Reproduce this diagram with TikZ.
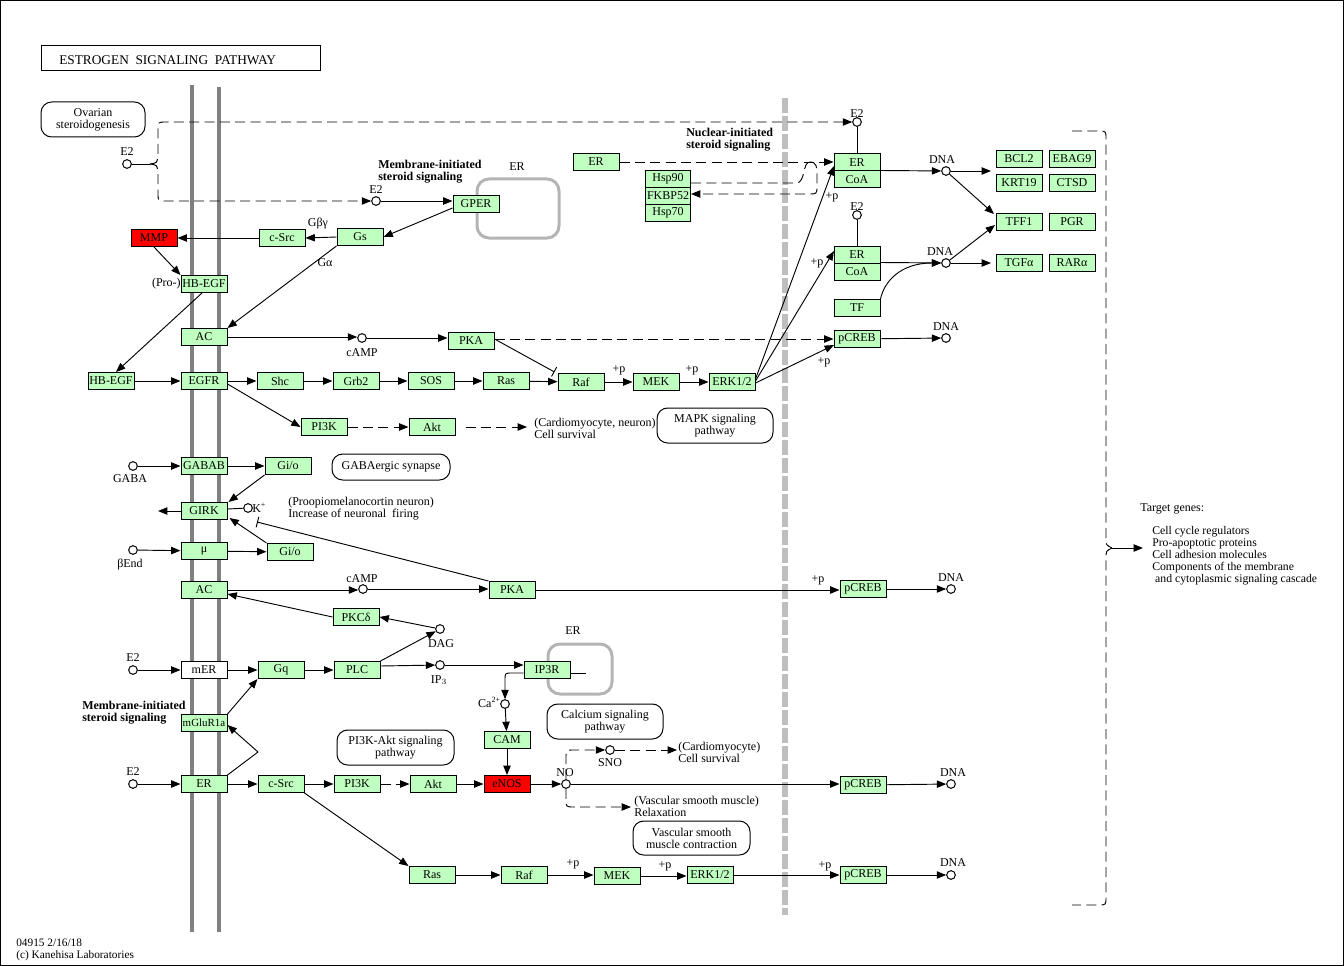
\documentclass[tikz,border=0pt]{standalone}
\usepackage{fontspec}
\setmainfont{Liberation Serif}
\usetikzlibrary{arrows.meta,calc}
\definecolor{kg}{RGB}{191,255,191}
\definecolor{membgray}{RGB}{128,128,128}
\definecolor{nucgray}{RGB}{190,190,190}
\definecolor{ergray}{RGB}{180,180,180}
\newcommand{\kf}{\fontsize{9}{9}\selectfont}
\begin{document}
\begin{tikzpicture}[x=0.75pt,y=-0.75pt,
 gene/.style={draw, line width=0.75pt, fill=kg, minimum width=34.5pt, minimum height=12.75pt, inner sep=0pt, font=\kf},
 redgene/.style={gene, fill=red},
 cpd/.style={circle, draw, line width=0.75pt, fill=white, minimum size=6.5pt, inner sep=0pt},
 mapb/.style={draw, line width=0.75pt, rounded corners=8pt, align=center, font=\kf, inner sep=0pt},
 lbl/.style={font=\kf, inner sep=0pt},
 txt/.style={font=\kf, inner sep=0pt, align=left, anchor=west},
 boldtxt/.style={font=\kf\bfseries, inner sep=0pt, align=left, anchor=west},
 ln/.style={line width=0.7pt},
 arr/.style={ln, -{Triangle[length=7pt,width=5.5pt]}},
 darr/.style={arr, dash pattern=on 7.5pt off 4pt},
 dln/.style={ln, dash pattern=on 7.5pt off 4pt},
 inh/.style={ln, -{Bar[width=8pt]}},
]
\useasboundingbox (0,0) rectangle (1344,966);
\draw[line width=0.75pt] (0.5,0.5) rectangle (1343.5,965.5);

% membranes
\draw[membgray, line width=3pt] (192,85) -- (192,932);
\draw[membgray, line width=3pt] (219,87) -- (219,932);
\draw[nucgray, line width=4.5pt, dash pattern=on 11pt off 2.5pt] (785,98) -- (785,915);
\draw[ergray, line width=2.25pt, rounded corners=9pt] (477,179) rectangle (559,238);
\draw[ergray, line width=2.25pt, rounded corners=9pt] (548,644) rectangle (612,694);

% title
\node[draw, line width=0.75pt, minimum width=209.25pt, minimum height=18.75pt, inner sep=0pt] (title) at (180.5,58.5) {};
\node[font=\fontsize{10}{10}\selectfont, inner sep=0pt, anchor=west] (titletext) at (59,60) {ESTROGEN\ \ SIGNALING\ \ PATHWAY};

% map boxes
\node[mapb, minimum width=78pt, minimum height=26.25pt] (ovar) at (93,119.5) {Ovarian\\steroidogenesis};
\node[mapb, minimum width=87pt, minimum height=26.25pt] (mapk) at (715,425.5) {MAPK signaling\\pathway};
\node[mapb, minimum width=88.5pt, minimum height=19.5pt] (gabasyn) at (391,467) {GABAergic synapse};
\node[mapb, minimum width=87.75pt, minimum height=26.25pt] (pi3kakt) at (395.5,747.5) {PI3K-Akt signaling\\pathway};
\node[mapb, minimum width=87pt, minimum height=26.25pt] (calc) at (605,721.5) {Calcium signaling\\pathway};
\node[mapb, minimum width=87.75pt, minimum height=25.5pt] (vsmc) at (691.5,838) {Vascular smooth\\muscle contraction};

% genes
\node[redgene] (mmp) at (154,238) {MMP};
\node[gene] (csrc1) at (282,238) {c-Src};
\node[gene] (gs) at (360,237) {Gs};
\node[gene] (gper) at (476,204) {GPER};
\node[gene] (hbegfp) at (204,284) {HB-EGF};
\node[gene] (ac1) at (204,337) {AC};
\node[gene] (hbegf) at (111,381) {HB-EGF};
\node[gene] (egfr) at (204,381) {EGFR};
\node[gene] (shc) at (280,381) {Shc};
\node[gene] (grb2) at (356,381) {Grb2};
\node[gene] (sos) at (431,381) {SOS};
\node[gene] (ras1) at (506,381) {Ras};
\node[gene] (raf1) at (581,382) {Raf};
\node[gene] (mek1) at (656,382) {MEK};
\node[gene] (erk1) at (732,382) {ERK1/2};
\node[gene] (pka1) at (471,341) {PKA};
\node[gene] (pi3k1) at (324,427) {PI3K};
\node[gene] (akt1) at (432,427) {Akt};
\node[gene] (ertop) at (596,162) {ER};
\node[gene, minimum width=33.75pt] (hsp90) at (668,179) {Hsp90};
\node[gene, minimum width=33.75pt] (fkbp) at (668,196) {FKBP52};
\node[gene, minimum width=33.75pt] (hsp70) at (668,213) {Hsp70};
\node[gene] (er1) at (857,162.5) {ER};
\node[gene] (coa1) at (857,179.5) {CoA};
\node[gene] (er2) at (857,254.5) {ER};
\node[gene] (coa2) at (857,271.5) {CoA};
\node[gene] (tf) at (857,308) {TF};
\node[gene] (pcreb1) at (857,339) {pCREB};
\node[gene] (bcl2) at (1019,159) {BCL2};
\node[gene] (ebag9) at (1072,159) {EBAG9};
\node[gene] (krt19) at (1019,183) {KRT19};
\node[gene] (ctsd) at (1072,183) {CTSD};
\node[gene] (tff1) at (1019,222) {TFF1};
\node[gene] (pgr) at (1072,222) {PGR};
\node[gene] (tgfa) at (1019,263) {TGFα};
\node[gene] (rara) at (1072,263) {RARα};
\node[gene] (gabab) at (204,466) {GABAB};
\node[gene] (gio1) at (288,466) {Gi/o};
\node[gene] (girk) at (204,511) {GIRK};
\node[gene] (mu) at (204,551) {μ};
\node[gene] (gio2) at (290,552) {Gi/o};
\node[gene] (ac2) at (204,590) {AC};
\node[gene] (pka2) at (512,590) {PKA};
\node[gene] (pcreb2) at (863,589) {pCREB};
\node[gene] (pkcd) at (356,617) {PKCδ};
\node[gene, fill=white] (mer) at (204,670) {mER};
\node[gene] (gq) at (281,670) {Gq};
\node[gene] (plc) at (357,670) {PLC};
\node[gene] (ip3r) at (547,670) {IP3R};
\node[gene] (cam) at (507,740) {CAM};
\node[redgene] (enos) at (507,784) {eNOS};
\node[gene, font=\fontsize{8.2}{9}\selectfont] (mglur) at (204,723) {mGluR1a};
\node[gene] (er3) at (204,784) {ER};
\node[gene] (csrc2) at (281,784) {c-Src};
\node[gene] (pi3k2) at (357,784) {PI3K};
\node[gene] (akt2) at (433,784) {Akt};
\node[gene] (pcreb3) at (863,785) {pCREB};
\node[gene] (ras2) at (432,875) {Ras};
\node[gene] (raf2) at (524,875) {Raf};
\node[gene] (mek2) at (617,876) {MEK};
\node[gene] (erk2) at (710,875) {ERK1/2};
\node[gene] (pcreb4) at (863,875) {pCREB};

% compounds
\node[cpd] (e2a) at (127,164) {};
\node[cpd] (e2b) at (376,201) {};
\node[cpd] (e2c) at (857,122) {};
\node[cpd] (e2d) at (857,215) {};
\node[cpd] (camp1) at (362,338) {};
\node[cpd] (dna1) at (946,171) {};
\node[cpd] (dna2) at (946,263) {};
\node[cpd] (dna3) at (946,338) {};
\node[cpd] (gaba) at (133,466) {};
\node[cpd] (kplus) at (248,508) {};
\node[cpd] (bend) at (133,550) {};
\node[cpd] (camp2) at (363,589) {};
\node[cpd] (dna4) at (951,589) {};
\node[cpd] (dag) at (440,629) {};
\node[cpd] (e2e) at (133,670) {};
\node[cpd] (ip3) at (440,665) {};
\node[cpd] (ca) at (505,704) {};
\node[cpd] (e2f) at (133,784) {};
\node[cpd] (no) at (566,784) {};
\node[cpd] (sno) at (610,750) {};
\node[cpd] (dna5) at (951,784) {};
\node[cpd] (dna6) at (951,875) {};

% free ends
\coordinate (girkout) at (158,511);
\coordinate (survend) at (527,427);
\coordinate (bclin) at (991,171);
\coordinate (tgfin) at (991,263);
\coordinate (snoout) at (677,750);
\coordinate (relax) at (631,807);
\coordinate (tgtarrow) at (1143,548);
\coordinate (ip3rstub) at (586,673);

% compound labels
\node[lbl] (le2a) at (127,152) {E2};
\node[lbl] (le2b) at (376,190) {E2};
\node[lbl] (le2c) at (857,114) {E2};
\node[lbl] (le2d) at (857,207) {E2};
\node[lbl] (lcamp1) at (362,353) {cAMP};
\node[lbl] (ldna1) at (942,160) {DNA};
\node[lbl] (ldna2) at (940,252) {DNA};
\node[lbl] (ldna3) at (946,327) {DNA};
\node[lbl] (lgaba) at (130,479) {GABA};
\node[lbl, anchor=west] (lk) at (252,508) {K\textsuperscript{+}};
\node[lbl] (lbend) at (130,565) {βEnd};
\node[lbl] (lcamp2) at (362,579) {cAMP};
\node[lbl] (ldna4) at (951,578) {DNA};
\node[lbl] (ldag) at (441,644) {DAG};
\node[lbl] (le2e) at (133,658) {E2};
\node[lbl] (lip3) at (439,680) {IP$_3$};
\node[lbl, anchor=east] (lca) at (501,702) {Ca\textsuperscript{2+}};
\node[lbl] (le2f) at (133,772) {E2};
\node[lbl] (lno) at (565,773) {NO};
\node[lbl] (lsno) at (610,763) {SNO};
\node[lbl] (ldna5) at (953,773) {DNA};
\node[lbl] (ldna6) at (953,863) {DNA};

% other labels
\node[lbl] (lgbg) at (318,224) {Gβγ};
\node[lbl] (lga) at (325,263) {Gα};
\node[lbl] (ler1) at (517,167) {ER};
\node[lbl] (ler2) at (573,631) {ER};
\node[lbl, anchor=east] (lpro) at (181,284) {(Pro-)};
\node[boldtxt] (mis1) at (378,172) {Membrane-initiated\\steroid signaling};
\node[boldtxt] (nis) at (686,140) {Nuclear-initiated\\steroid signaling};
\node[boldtxt] (mis2) at (82,713) {Membrane-initiated\\steroid signaling};
\node[txt] (tsurv1) at (534,428.5) {(Cardiomyocyte, neuron)\\Cell survival};
\node[txt] (tpomc) at (288,509) {(Proopiomelanocortin neuron)\\Increase of neuronal\ \ firing};
\node[txt] (tsurv2) at (678,752.5) {(Cardiomyocyte)\\Cell survival};
\node[txt] (trelax) at (634,806.5) {(Vascular smooth muscle)\\Relaxation};
\node[txt] (ttarget) at (1140,509) {Target genes:};
\node[txt, align=left, font=\fontsize{8.8}{9}\selectfont] (tlist) at (1152,556) {Cell cycle regulators\\Pro-apoptotic proteins\\Cell adhesion molecules\\Components of the membrane\\\ and cytoplasmic signaling cascade};
\node[txt, font=\fontsize{8.5}{8.5}\selectfont] (footer) at (16,950) {04915 2/16/18\\(c) Kanehisa Laboratories};

% +p labels
\node[lbl] (p1) at (619,370) {+p};
\node[lbl] (p2) at (692,370) {+p};
\node[lbl] (p3) at (832,197) {+p};
\node[lbl] (p4) at (817,263) {+p};
\node[lbl] (p5) at (824,362) {+p};
\node[lbl] (p6) at (818,580) {+p};
\node[lbl] (p7) at (573,864) {+p};
\node[lbl] (p8) at (665,866) {+p};
\node[lbl] (p9) at (825,866) {+p};

% ---------- connectors ----------
\draw[ln] (e2a) -- (150,164);
\draw[darr] (150,164) .. controls (157,163) .. (158,156) -- (158,130) .. controls (158,122) .. (166,122) -- (e2c);
\draw[darr] (150,164) .. controls (157,165) .. (158,172) -- (158,193) .. controls (158,201) .. (166,201) -- (e2b);
\draw[arr] (e2b) -- (e2b -| gper.west);
\draw[arr] ($(gper.west)+(0,4)$) -- (gs.east);
\draw[arr] (gs.west) -- (csrc1.east);
\draw[arr] (csrc1.west) -- (mmp.east);
\draw[arr] (mmp.south) -- (hbegfp.north west);
\draw[arr] (gs.south west) -- (ac1.north east);
\draw[arr] ($(hbegfp.south)+(-2,0)$) -- ($(hbegf.north)+(5,0)$);
\draw[arr] (hbegf) -- (egfr);
\draw[arr] (egfr) -- (shc);
\draw[arr] (shc) -- (grb2);
\draw[arr] (grb2) -- (sos);
\draw[arr] (sos) -- (ras1);
\draw[arr] (ras1) -- (raf1);
\draw[arr] (raf1) -- (mek1);
\draw[arr] (mek1) -- (erk1);
\draw[arr] ($(egfr.east)+(0,3)$) -- (pi3k1.west);
\draw[darr] (pi3k1) -- (akt1);
\draw[darr] (akt1.east) ++(10,0) -- (survend);
\draw[arr] (ac1) -- (ac1 -| camp1.west);
\draw[arr] (camp1) -- (camp1 -| pka1.west);
\draw[inh] ($(pka1.east)+(0,-2)$) -- ($(raf1.north west)+(-3,-1)$);
\draw[darr] ($(pka1.east)+(0,-2)$) -- ($(pcreb1.west)+(0,0)$);
\draw[arr] ($(erk1.east)+(0,-3)$) -- (834,166);
\draw[arr] ($(erk1.east)+(0,-1)$) -- (834,251);
\draw[arr] ($(erk1.east)+(0,1)$) -- (834,345);
\draw[darr] (ertop) -- (ertop -| er1.west);
\draw[dln] ($(hsp90.east)+(0,4)$) -- (796,183) .. controls (806,183) and (802,162) .. (810,162);
\draw[darr] (810,162) .. controls (817,162) and (817,168) .. (817,175) -- (817,186) .. controls (817,194) .. (808,194) -- ($(fkbp.east)+(0,-2)$);
\draw[ln] (e2c) -- (er1.north);
\draw[ln] (e2d) -- (er2.north);
\draw[arr] (coa1.north east) -- (dna1);
\draw[arr] (dna1) -- (bclin);
\draw[arr] (dna1) -- (994,214);
\draw[arr] (coa2.north east) -- (dna2);
\draw[arr] (tf.north east) .. controls (884,282) and (900,263) .. (dna2);
\draw[arr] (dna2) -- (tgfin);
\draw[arr] (dna2) -- (995,225);
\draw[arr] (pcreb1) -- (dna3);
% target genes brace
\draw[dln] (1072,131) -- (1098,131) .. controls (1106,131) .. (1106,139) -- (1106,538) .. controls (1106,545) .. (1112,548);
\draw[dln] (1112,548) .. controls (1106,551) .. (1106,558) -- (1106,897) .. controls (1106,905) .. (1098,905) -- (1072,905);
\draw[arr] (1112,548) -- (tgtarrow);
% GABA / GIRK
\draw[arr] (gaba) -- (gabab);
\draw[arr] (gabab) -- (gio1);
\draw[arr] (gio1.south west) -- ($(girk.north east)+(1,0)$);
\draw[arr] (girk) -- (girkout);
\draw[ln] ($(girk.east)+(0,-2)$) -- (kplus);
\draw[inh] (pka2.north west) -- (257,522);
\draw[arr] (bend) -- (mu);
\draw[arr] (mu) -- (gio2);
\draw[arr] (gio2.north west) -- ($(girk.south east)+(2,-2)$);
\draw[arr] (ac2) -- (ac2 -| camp2.west);
\draw[arr] (camp2) -- (camp2 -| pka2.west);
\draw[arr] (pka2) -- (pka2 -| pcreb2.west);
\draw[arr] (pcreb2) -- (dna4);
\draw[arr] (pkcd.west) -- ($(ac2.east)+(0,4)$);
\draw[arr] (dag) -- (pkcd.east);
\draw[arr] (plc.north east) -- (dag);
% Gq / PLC
\draw[arr] (e2e) -- (mer);
\draw[arr] (mer) -- (gq);
\draw[arr] (gq) -- (plc);
\draw[arr] ($(plc.east)+(0,-4)$) -- (ip3);
\draw[arr] (ip3) -- (ip3 -| ip3r.west);
\draw[ln] ($(ip3r.east)+(0,3)$) -- (ip3rstub);
\draw[arr] ($(ip3r.west)+(0,3)$) -- (512,673) .. controls (505,673) .. (505,680) -- (ca);
\draw[arr] (ca) -- (cam);
\draw[arr] (cam) -- (enos);
\draw[arr] (mglur.north east) -- (gq.south west);
\draw[arr] (e2f) -- (er3);
\draw[arr] (er3.north east) -- (258,752) -- ($(mglur.east)+(0,2)$);
\draw[arr] (er3) -- (csrc2);
\draw[arr] (csrc2) -- (pi3k2);
\draw[darr] (pi3k2) -- (akt2);
\draw[arr] (akt2) -- (enos);
\draw[arr] (enos) -- (no);
\draw[arr] (no) -- (no -| pcreb3.west);
\draw[arr] (pcreb3) -- (dna5);
\draw[darr] (no.north) -- (566,758) .. controls (566,750) .. (574,750) -- (sno);
\draw[darr] (sno) -- (snoout);
\draw[darr] (no.south) -- (566,799) .. controls (566,807) .. (574,807) -- (relax);
\draw[arr] (csrc2.south east) -- (ras2.north west);
\draw[arr] (ras2) -- (raf2);
\draw[arr] (raf2) -- (raf2 -| mek2.west);
\draw[arr] (mek2) -- (mek2 -| erk2.west);
\draw[arr] (erk2) -- (erk2 -| pcreb4.west);
\draw[arr] (pcreb4) -- (dna6);
\end{tikzpicture}
\end{document}
